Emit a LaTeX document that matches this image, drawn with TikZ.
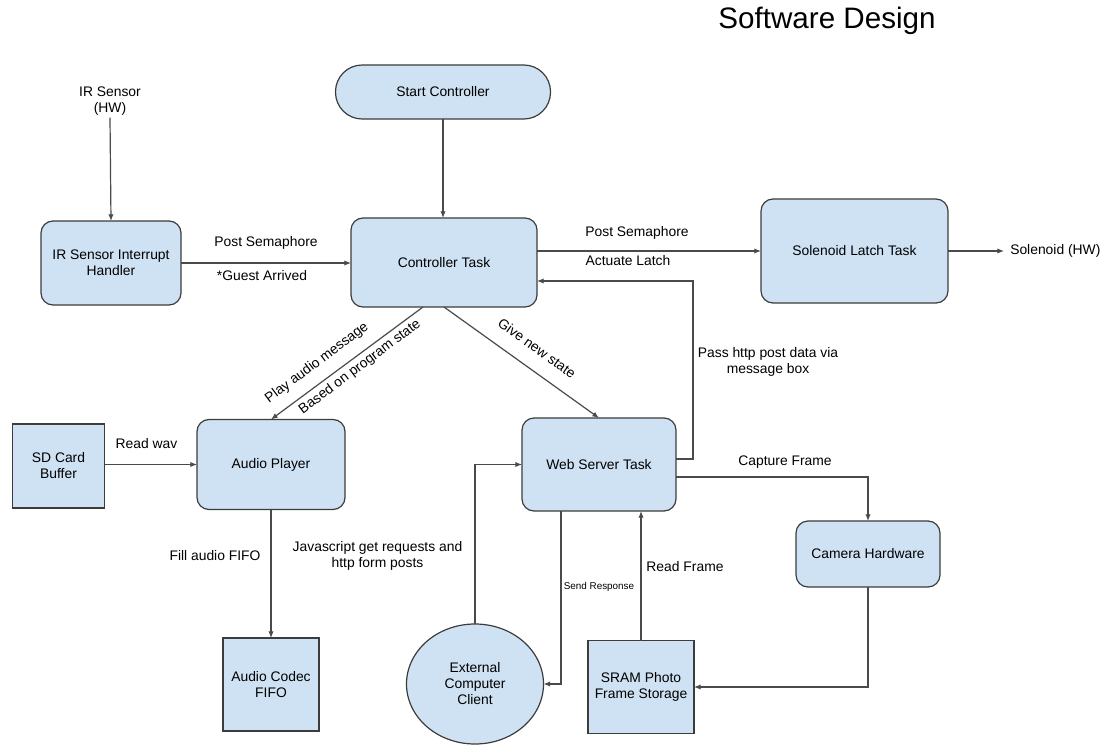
\documentclass[tikz,border=0pt]{standalone}
\usepackage{fontspec}
\setmainfont{Liberation Sans}
\usetikzlibrary{arrows.meta,calc,shapes.geometric}
\definecolor{boxblue}{HTML}{CFE2F3}
\definecolor{edgegray}{HTML}{3C3C3C}
\definecolor{linegray}{HTML}{4A4A4A}
\newcommand\bodyfont{\fontsize{10.4}{12}\selectfont}
\newcommand\tinyfont{\fontsize{7.4}{9}\selectfont}
\tikzset{
  box/.style={draw=edgegray, fill=boxblue, line width=0.9pt, rounded corners=9pt,
    align=center, font=\bodyfont, inner sep=0pt, outer sep=0pt},
  sqbox/.style={draw=edgegray, fill=boxblue, line width=0.9pt,
    align=center, font=\bodyfont, inner sep=0pt, outer sep=0pt},
  conn/.style={draw=linegray, line width=0.9pt, -{Latex[length=5pt,width=4pt]}},
  lbl/.style={font=\bodyfont, align=center, inner sep=0pt},
}
\begin{document}
\begin{tikzpicture}[x=0.75pt, y=-0.75pt]
\useasboundingbox (0,0) rectangle (1109,745);

% heading
\node[font=\fontsize{22.2}{26}\selectfont, inner sep=0pt] (title) at (827,21) {Software Design};

% task boxes
\node[box, rounded corners=20pt, minimum width=215*0.75pt, minimum height=54*0.75pt] (start) at (443,92) {Start Controller};
\node[box, minimum width=186*0.75pt, minimum height=89*0.75pt] (ctrl) at (444,262.5) {Controller Task};
\node[box, minimum width=140*0.75pt, minimum height=84*0.75pt] (irh) at (111,263) {IR Sensor Interrupt\\Handler};
\node[box, minimum width=187*0.75pt, minimum height=104*0.75pt] (sol) at (854.5,251) {Solenoid Latch Task};
\node[box, minimum width=148*0.75pt, minimum height=90*0.75pt] (ap) at (271,464.5) {Audio Player};
\node[box, minimum width=154*0.75pt, minimum height=93*0.75pt] (web) at (599,464.5) {Web Server Task};
\node[box, minimum width=144*0.75pt, minimum height=66*0.75pt] (cam) at (868,554) {Camera Hardware};

% storage blocks
\node[sqbox, minimum width=92*0.75pt, minimum height=84*0.75pt] (sd) at (58.5,466) {SD Card\\Buffer};
\node[sqbox, minimum width=96*0.75pt, minimum height=93*0.75pt] (codec) at (271,684.5) {Audio Codec\\FIFO};
\node[sqbox, minimum width=106*0.75pt, minimum height=93*0.75pt] (sram) at (641,687) {SRAM Photo\\Frame Storage};

% external client
\node[sqbox, ellipse, minimum width=137*0.75pt, minimum height=120*0.75pt] (client) at (475,684) {External\\Computer\\Client};

% hardware terminals
\node[lbl] (irs) at (110,101) {IR Sensor\\(HW)};
\node[lbl, anchor=west, inner xsep=4.5pt] (solhw) at (1004,251) {Solenoid (HW)};

% connectors
\draw[conn] ($(irs.south)+(0,2)$) -- (irh.north);
\draw[conn] (start.south) -- (start.south |- ctrl.north);
\draw[conn] (irh.east) -- (ctrl.west |- irh.east);
\draw[conn] (ctrl.east |- sol.west) -- (sol.west);
\draw[conn] (sol.east) -- (solhw.west);
\draw[conn] ($(web.east)+(0,-5.5)$) -- ++(17,0) |- ($(ctrl.east)+(0,18.5)$);
\draw[conn] ($(ctrl.south)+(-21,0)$) -- (ap.north);
\draw[conn] (ctrl.south) -- (web.north);
\draw[conn] (sd.east |- ap.west) -- (ap.west);
\draw[conn] (ap.south) -- (codec.north);
\draw[conn] (client.north) |- (web.west);
\draw[conn] ($(web.south)+(-38,0)$) |- (client.east);
\draw[conn] (sram.north) -- (sram.north |- web.south);
\draw[conn] ($(web.east)+(0,12.5)$) -| (cam.north);
\draw[conn] (cam.south) |- (sram.east);

% connector labels
\node[lbl] (l1) at (266,243) {Post Semaphore};
\node[lbl] (l2) at (262,276) {*Guest Arrived};
\node[lbl] (l3) at (637,233) {Post Semaphore};
\node[lbl] (l4) at (628,261) {Actuate Latch};
\node[lbl] (l5) at (768,362) {Pass http post data via\\message box};
\node[lbl, rotate=36.9] (l6) at (317,363) {Play audio message};
\node[lbl, rotate=36.9] (l7) at (360,367) {Based on program state};
\node[lbl, rotate=-35.8] (l8) at (537,348) {Give new state};
\node[lbl] (l9) at (146.5,444) {Read wav};
\node[lbl] (l10) at (215,556) {Fill audio FIFO};
\node[lbl] (l11) at (377.5,556) {Javascript get requests and\\http form posts};
\node[lbl] (l12) at (785,462) {Capture Frame};
\node[lbl, font=\tinyfont] (l13) at (599,587) {Send Response};
\node[lbl] (l14) at (685,567) {Read Frame};
\end{tikzpicture}
\end{document}
